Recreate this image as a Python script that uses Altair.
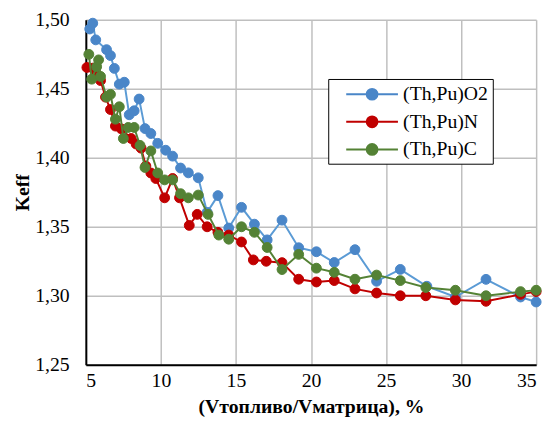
import altair as alt
import pandas as pd

series_names = ["(Th,Pu)O2", "(Th,Pu)N", "(Th,Pu)C"]
marker_colors = ["#4A86C8", "#C00000", "#548235"]
line_colors = ["#5B9BD5", "#C00000", "#548235"]

x_o2 = [5.26, 5.46, 5.66, 6.38, 6.64, 6.90, 7.23, 7.56, 7.89, 8.22, 8.55, 8.94, 9.33, 9.79,
        10.32, 10.78, 11.31, 11.83, 12.49, 13.08, 13.80, 14.52, 15.37, 16.23, 17.08, 18.07,
        19.18, 20.36, 21.55, 22.93, 24.37, 25.95, 27.72, 29.62, 31.66, 33.96, 35.0]
y_o2 = [1.4934, 1.4976, 1.4855, 1.4784, 1.4741, 1.4648, 1.4534, 1.4548, 1.4312, 1.4341,
        1.4426, 1.4212, 1.4176, 1.4105, 1.4055, 1.4012, 1.3926, 1.3891, 1.3855, 1.3605,
        1.3726, 1.3491, 1.3641, 1.3519, 1.3405, 1.3548, 1.3348, 1.3319, 1.3241, 1.3334,
        1.3105, 1.3191, 1.3069, 1.2991, 1.3119, 1.2991, 1.2955]

x_n = [5.07, 5.46, 5.72, 5.98, 6.31, 6.64, 6.97, 7.36, 8.02, 8.35, 8.68, 9.00, 9.33, 9.66,
       10.25, 10.78, 11.24, 11.89, 12.42, 13.08, 13.80, 14.52, 15.37, 16.16, 17.02, 18.07,
       19.18, 20.36, 21.55, 22.93, 24.37, 25.95, 27.65, 29.62, 31.66, 33.96, 35.0]
y_n = [1.4655, 1.465, 1.4607, 1.456, 1.444, 1.435, 1.423, 1.421, 1.414, 1.41, 1.407, 1.394,
       1.389, 1.385, 1.371, 1.385, 1.371, 1.351, 1.359, 1.35, 1.346, 1.344, 1.339, 1.326,
       1.325, 1.324, 1.312, 1.31, 1.311, 1.305, 1.302, 1.30, 1.30, 1.297, 1.296, 1.301, 1.303]

x_c = [5.20, 5.39, 5.72, 5.85, 5.98, 6.38, 6.64, 6.97, 7.23, 7.50, 7.82, 8.22, 8.61, 8.94,
       9.33, 9.79, 10.25, 10.78, 11.31, 11.83, 12.49, 13.14, 13.86, 14.52, 15.37, 16.23,
       17.08, 18.07, 19.18, 20.36, 21.55, 22.93, 24.37, 25.95, 27.65, 29.62, 31.66, 33.96, 35.0]
y_c = [1.475, 1.457, 1.466, 1.471, 1.459, 1.444, 1.446, 1.428, 1.437, 1.414, 1.422, 1.422,
       1.409, 1.393, 1.405, 1.389, 1.384, 1.384, 1.374, 1.371, 1.373, 1.359, 1.344, 1.341,
       1.35, 1.346, 1.335, 1.319, 1.33, 1.32, 1.317, 1.312, 1.315, 1.311, 1.306, 1.304, 1.30,
       1.303, 1.304]

x_ticks = [5, 10, 15, 20, 25, 30, 35]
y_ticks = [1.25, 1.30, 1.35, 1.40, 1.45, 1.50]

frames = []
for name, xs, ys in zip(series_names, [x_o2, x_n, x_c], [y_o2, y_n, y_c]):
    frames.append(pd.DataFrame({"x": xs, "y": ys, "series": name, "idx": list(range(len(xs)))}))
df = pd.concat(frames, ignore_index=True)

FONT = "Liberation Serif"

xscale = alt.Scale(domain=[5, 35], nice=False, zero=False)
yscale = alt.Scale(domain=[1.25, 1.50], nice=False, zero=False)
color_scale = alt.Scale(domain=series_names, range=marker_colors)

xaxis = alt.Axis(values=x_ticks, title="(Vтопливо/Vматрица), %", labelPadding=6,
                 titlePadding=6, labelFont=FONT, titleFont=FONT)
yaxis = alt.Axis(values=y_ticks, title="Keff",
                 labelExpr="replace(format(datum.value, '.2f'), '.', ',')",
                 labelPadding=17, titlePadding=2, labelFont=FONT, titleFont=FONT)

sym = "M-2.5,0L2.5,0M0.52,0A0.52,0.52,0,1,1,-0.52,0A0.52,0.52,0,1,1,0.52,0Z"
legend = alt.Legend(orient="none", legendX=246, legendY=60, title=None,
                    symbolType=sym, symbolSize=441, symbolStrokeWidth=2,
                    symbolOffset=29, labelOffset=20, padding=4, rowPadding=6,
                    strokeColor="black", fillColor="white",
                    labelFontSize=20, labelFont=FONT, labelColor="black",
                    labelExpr="datum.label + '\u00a0\u00a0\u00a0\u00a0\u00a0\u00a0\u00a0\u00a0'")

layers = []
for i, name in enumerate(series_names):
    base = alt.Chart(df).transform_filter(alt.datum.series == name)
    line = base.mark_line(strokeWidth=2, color=line_colors[i]).encode(
        x=alt.X("x:Q", scale=xscale, axis=xaxis),
        y=alt.Y("y:Q", scale=yscale, axis=yaxis),
        order="idx:Q",
    )
    pts = base.mark_point(filled=True, size=100, opacity=1, strokeWidth=1).encode(
        x=alt.X("x:Q", scale=xscale, axis=xaxis),
        y=alt.Y("y:Q", scale=yscale, axis=yaxis),
        fill=alt.Fill("series:N", scale=color_scale, legend=legend),
        stroke=alt.Stroke("series:N", scale=color_scale, legend=legend),
    )
    layers += [line, pts]

chart = (
    alt.layer(*layers)
    .properties(width=457, height=350,
                padding={"left": 79, "top": 9, "right": 10, "bottom": 50},
                autosize=alt.AutoSizeParams(type="none"))
    .configure(font=FONT,
               style={"guide-label": {"font": FONT, "fontSize": 20, "fill": "black"},
                      "guide-title": {"font": FONT, "fontSize": 20, "fontWeight": "bold",
                                      "fill": "black"}})
    .configure_view(strokeWidth=0)
    .configure_legend(labelFont=FONT)
    .configure_axis(grid=True, gridColor="#BFBFBF", gridWidth=1.5,
                    domainColor="black", domainWidth=2, ticks=False,
                    labelFont=FONT, labelFontSize=20, labelColor="black",
                    titleFont=FONT, titleFontSize=20, titleFontWeight="bold",
                    titleColor="black")
)

chart.save("out.html", embed_options={"renderer": "svg", "actions": False})
